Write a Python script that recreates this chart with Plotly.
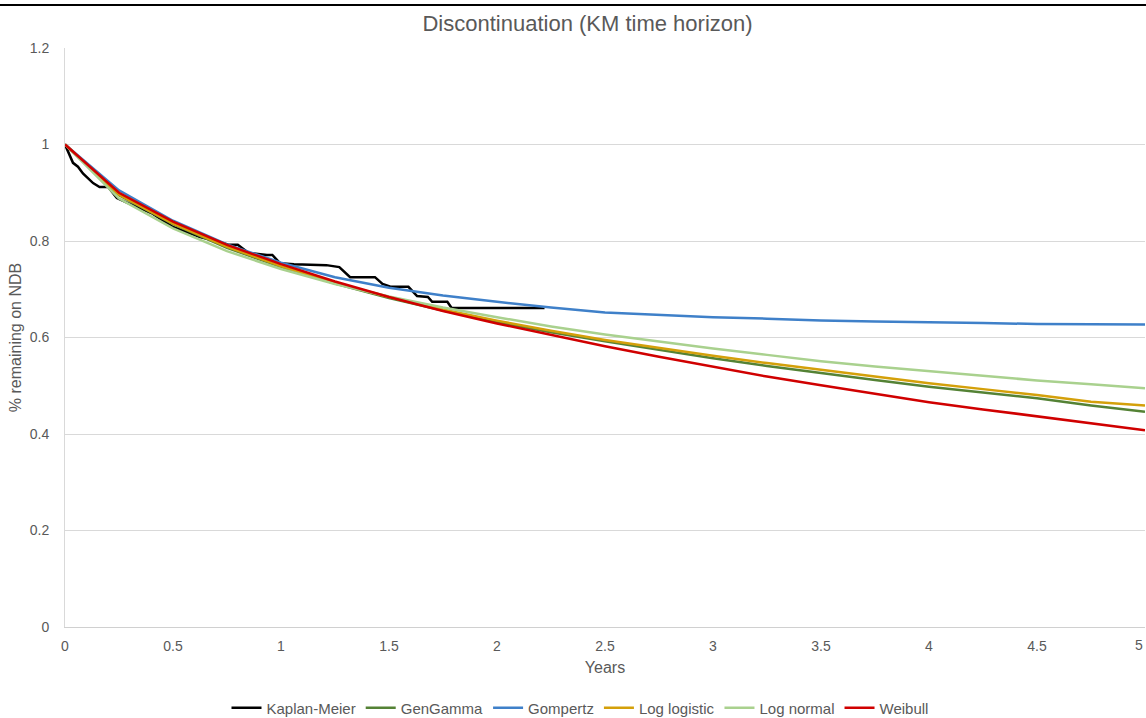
import plotly.graph_objects as go

# ---- data ----
km_t = [0, 0.015, 0.037, 0.06, 0.083, 0.13, 0.16, 0.2, 0.24, 0.3, 0.4, 0.5, 0.55,
        0.625, 0.7, 0.76, 0.8, 0.85, 0.935, 0.96, 0.995, 1.06, 1.21, 1.27, 1.32,
        1.435, 1.47, 1.51, 1.59, 1.63, 1.68, 1.70, 1.77, 1.79, 2.22]
km_v = [1.0, 0.985, 0.962, 0.954, 0.94, 0.92, 0.912, 0.912, 0.889, 0.877, 0.858, 0.829, 0.82,
        0.808, 0.80, 0.792, 0.792, 0.775, 0.771, 0.771, 0.754, 0.752, 0.75, 0.746, 0.725,
        0.725, 0.711, 0.705, 0.705, 0.686, 0.684, 0.674, 0.674, 0.661, 0.661]

years = [0, 0.25, 0.5, 0.75, 1.0, 1.25, 1.5, 1.75, 2.0, 2.25, 2.5, 2.75, 3.0,
         3.25, 3.5, 3.75, 4.0, 4.25, 4.5, 4.75, 5.0]
gengamma = [1.0, 0.895, 0.835, 0.786, 0.746, 0.712, 0.682, 0.656, 0.632, 0.611, 0.592, 0.574, 0.557,
            0.541, 0.526, 0.512, 0.498, 0.486, 0.474, 0.459, 0.446]
gompertz = [1.0, 0.905, 0.842, 0.793, 0.755, 0.725, 0.703, 0.687, 0.674, 0.662, 0.652, 0.647, 0.642,
            0.639, 0.635, 0.633, 0.632, 0.630, 0.628, 0.627, 0.627]
loglogistic = [1.0, 0.896, 0.836, 0.788, 0.748, 0.713, 0.684, 0.658, 0.635, 0.614, 0.595, 0.578, 0.562,
               0.547, 0.533, 0.519, 0.505, 0.493, 0.481, 0.467, 0.459]
lognormal = [1.0, 0.888, 0.826, 0.779, 0.742, 0.711, 0.685, 0.662, 0.642, 0.623, 0.606, 0.591, 0.577,
             0.564, 0.551, 0.540, 0.530, 0.520, 0.511, 0.503, 0.495]
weibull = [1.0, 0.900, 0.840, 0.792, 0.752, 0.716, 0.684, 0.655, 0.629, 0.605, 0.582, 0.560, 0.539,
           0.519, 0.501, 0.483, 0.466, 0.451, 0.437, 0.422, 0.408]

series_names = ["GenGamma", "Gompertz", "Log logistic", "Log normal", "Weibull"]
series_vals = [gengamma, gompertz, loglogistic, lognormal, weibull]
series_colors = ["#548235", "#3f80c9", "#d4a00a", "#a9d18e", "#d00000"]

x_ticks = [0, 0.5, 1, 1.5, 2, 2.5, 3, 3.5, 4, 4.5, 5]
x_ticklabels = ["0", "0.5", "1", "1.5", "2", "2.5", "3", "3.5", "4", "4.5", "5"]
y_ticks = [0, 0.2, 0.4, 0.6, 0.8, 1.0, 1.2]
y_ticklabels = ["0", "0.2", "0.4", "0.6", "0.8", "1", "1.2"]

FONT = "Liberation Sans, Arial, sans-serif"
GREY = "#595959"
TICK = 14

fig = go.Figure()
fig.add_trace(go.Scatter(x=km_t, y=km_v, mode="lines", name="Kaplan-Meier",
                         line=dict(color="#000000", width=2.5)))
for n, v, c in zip(series_names, series_vals, series_colors):
    fig.add_trace(go.Scatter(x=years, y=v, mode="lines", name=n,
                             line=dict(color=c, width=2.5)))

fig.update_layout(
    width=1146, height=718,
    margin=dict(l=65, r=1, t=48, b=91, autoexpand=False),
    paper_bgcolor="white", plot_bgcolor="white",
    font=dict(family=FONT, size=TICK, color=GREY),
    title=dict(text="Discontinuation (KM time horizon)", x=0.5127, xanchor="center",
               xref="container", y=1 - 23 / 718, yref="container", yanchor="middle",
               font=dict(family=FONT, size=22, color=GREY)),
    showlegend=True,
    legend=dict(orientation="h", x=(580 - 65) / 1080, xanchor="center", xref="paper",
                y=1 - 708 / 718, yanchor="middle", yref="container",
                font=dict(family=FONT, size=15, color=GREY),
                entrywidth=0, tracegroupgap=0, bgcolor="rgba(0,0,0,0)"),
    hovermode=False,
)
fig.update_xaxes(range=[0, 5], tickvals=x_ticks[:-1], ticktext=x_ticklabels[:-1],
                 showgrid=False, zeroline=False, showline=True, linecolor="#d0d0d0", linewidth=1,
                 ticks="", ticklabelstandoff=6,
                 title=dict(text="Years", font=dict(family=FONT, size=16, color=GREY), standoff=9),
                 tickfont=dict(family=FONT, size=TICK, color=GREY))
fig.update_yaxes(range=[0, 1.2], tickvals=y_ticks, ticktext=y_ticklabels,
                 showgrid=True, gridcolor="#d9d9d9", gridwidth=1, zeroline=False,
                 showline=True, linecolor="#d9d9d9", linewidth=1,
                 ticks="", ticklabelstandoff=12,
                 title=dict(text="% remaining on NDB", font=dict(family=FONT, size=16, color=GREY), standoff=4),
                 tickfont=dict(family=FONT, size=TICK, color=GREY))

# last x tick label sits at the page edge; keep it fully visible
fig.add_annotation(x=x_ticks[-1], y=0, xref="x", yref="paper", yshift=-8,
                   text=x_ticklabels[-1], showarrow=False, xanchor="right", yanchor="top",
                   font=dict(family=FONT, size=TICK, color=GREY))

# black rule across the top of the picture (document border above the chart)
fig.add_shape(type="line", xref="paper", yref="paper",
              x0=-65 / 1080, x1=1081 / 1080, y0=(627 - 5) / 579, y1=(627 - 5) / 579,
              line=dict(color="#000000", width=2))

fig.write_html("out.html")
